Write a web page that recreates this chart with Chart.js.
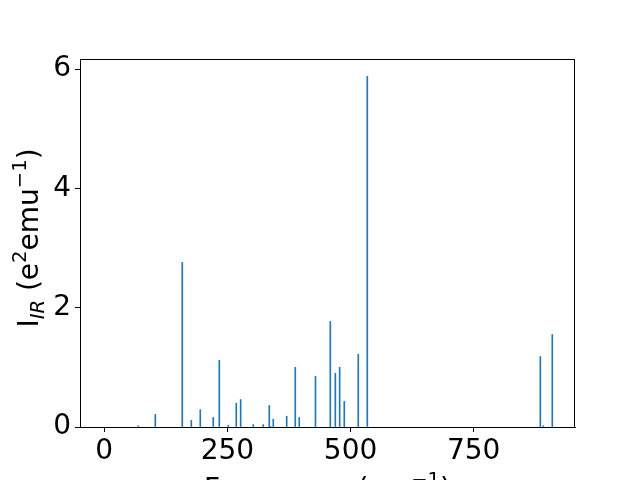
<!DOCTYPE html>
<html><head><meta charset="utf-8">
<script src="https://cdn.jsdelivr.net/npm/chart.js@4/dist/chart.umd.min.js"></script>
<style>html,body{margin:0;padding:0;background:#fff}#w{width:640px;height:480px}</style>
</head><body><div id="w"><canvas id="c" width="640" height="480"></canvas></div>
<script>
const frequencies = [69, 103.6, 158.4, 176.7, 194.9, 221.3, 233.5, 251.8, 268, 276.9, 302.5, 322.8, 335, 337, 343.1, 370.3, 387.8, 395.9, 428.8, 458.9, 469.1, 477.9, 487.3, 515.7, 534, 885.3, 891.4, 909.6];
const intensities = [0.02, 0.21, 2.76, 0.11, 0.29, 0.16, 1.12, 0.03, 0.40, 0.46, 0.04, 0.04, 0.36, 0.01, 0.13, 0.18, 1.00, 0.16, 0.85, 1.77, 0.90, 1.00, 0.43, 1.22, 5.88, 1.18, 0.02, 1.55];
const xTicks = [0, 250, 500, 750];
const yTicks = [0, 2, 4, 6];

const FONT = '"DejaVu Sans", sans-serif';
const FS = 28;
const LFS = 28;

function drawRich(ctx, segs, size, draw) {
  let x = 0;
  for (const s of segs) {
    const sz = s.sup || s.sub ? size * 0.7 : size;
    ctx.font = (s.it ? 'italic ' : '') + sz + 'px ' + FONT;
    const dy = s.sup ? -0.42 * size : (s.sub ? 0.2 * size : 0);
    if (draw) ctx.fillText(s.t, x, dy);
    x += ctx.measureText(s.t).width;
  }
  return x;
}

const labelsPlugin = {
  id: 'labels',
  afterDraw(chart) {
    const ctx = chart.ctx, a = chart.chartArea;
    ctx.save();
    ctx.strokeStyle = '#000'; ctx.lineWidth = 1;
    ctx.strokeRect(Math.round(a.left) + 0.5, Math.round(a.top) + 0.5, Math.round(a.right - a.left) - 1, Math.round(a.bottom - a.top));
    ctx.fillStyle = '#000';
    ctx.textBaseline = 'alphabetic';
    ctx.textAlign = 'left';
    const ys = [{t:'I'},{t:'IR',sub:1,it:1},{t:' (e'},{t:'2',sup:1},{t:'emu'},{t:'\u22121',sup:1},{t:')'}];
    let w = drawRich(ctx, ys, LFS, false);
    ctx.save();
    ctx.translate(38, 238);
    ctx.rotate(-Math.PI / 2);
    ctx.translate(-w / 2, 0);
    drawRich(ctx, ys, LFS, true);
    ctx.restore();
    const xs = [{t:'Frequency (cm'},{t:'\u22121',sup:1},{t:')'}];
    w = drawRich(ctx, xs, LFS, false);
    ctx.save();
    ctx.translate((a.left + a.right) / 2 - w / 2, 498);
    drawRich(ctx, xs, LFS, true);
    ctx.restore();
    ctx.restore();
  }
};

new Chart(document.getElementById('c'), {
  type: 'bar',
  data: {
    datasets: [{
      data: frequencies.map((f, i) => ({x: f, y: intensities[i]})),
      backgroundColor: '#1f77b4',
      borderWidth: 0,
      barThickness: 1
    }]
  },
  options: {
    responsive: false,
    animation: false,
    devicePixelRatio: 1,
    layout: {padding: {left: 0, right: 65, top: 59, bottom: 0}},
    plugins: {legend: {display: false}, tooltip: {enabled: false}},
    scales: {
      x: {
        type: 'linear', min: -49.3, max: 955.7, offset: false,
        afterBuildTicks: s => { s.ticks = xTicks.map(v => ({value: v})); },
        afterFit: s => { s.height = 53; },
        grid: {offset: false, drawOnChartArea: false, drawTicks: true, tickLength: 5, tickColor: '#000', tickWidth: 1},
        border: {display: true, color: '#000', width: 1},
        ticks: {color: '#000', font: {family: FONT, size: FS}, padding: 3, maxRotation: 0, autoSkip: false}
      },
      y: {
        type: 'linear', min: 0, max: 6.17,
        afterBuildTicks: s => { s.ticks = yTicks.map(v => ({value: v})); },
        afterFit: s => { s.width = 80; },
        grid: {drawOnChartArea: false, drawTicks: true, tickLength: 5, tickColor: '#000', tickWidth: 1},
        border: {display: true, color: '#000', width: 1},
        ticks: {color: '#000', font: {family: FONT, size: FS}, padding: 4, autoSkip: false}
      }
    }
  },
  plugins: [labelsPlugin]
});
</script></body></html>
